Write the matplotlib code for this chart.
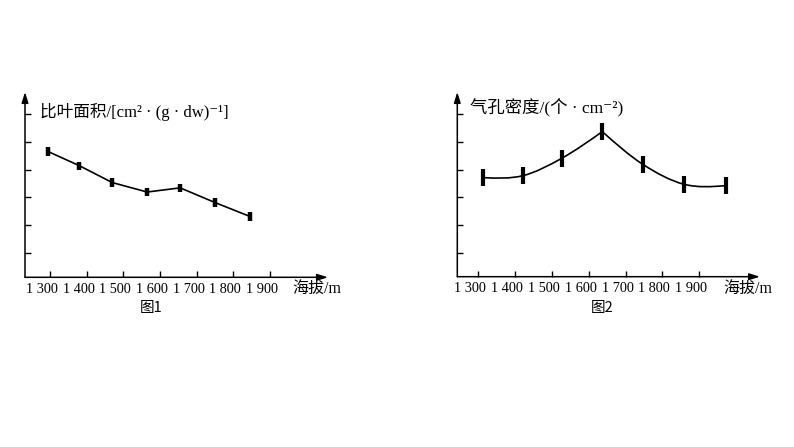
import numpy as np
import matplotlib
matplotlib.use('Agg')
import matplotlib.pyplot as plt
from matplotlib.path import Path
from matplotlib.patches import PathPatch
from matplotlib.transforms import ScaledTranslation

# figure 1: specific leaf area vs altitude
alt1 = [1295, 1380, 1470, 1565, 1655, 1750, 1845]
sla = [4.65, 4.14, 3.53, 3.19, 3.34, 2.81, 2.31]
sla_err = [0.15, 0.15, 0.15, 0.15, 0.15, 0.15, 0.15]

# figure 2: stomatal density vs altitude
alt2 = [1314, 1421, 1527, 1637, 1747, 1859, 1972]
density = [3.71, 3.78, 4.41, 5.37, 4.19, 3.47, 3.42]
density_err = [0.3, 0.3, 0.3, 0.3, 0.3, 0.3, 0.3]

xticks = [1300, 1400, 1500, 1600, 1700, 1800, 1900]
xtick_labels = ['1 300', '1 400', '1 500', '1 600', '1 700', '1 800', '1 900']
yticks = [1, 2, 3, 4, 5, 6]

title1 = '比叶面积/[cm² · (g · dw)⁻¹]'
title2 = '气孔密度/(个 · cm⁻²)'
xlabel = '海拔/m'

W, H = 794, 447
fig = plt.figure(figsize=(W / 100, H / 100), dpi=100)
txt_font = ['Liberation Serif', 'Noto Sans CJK SC', 'DejaVu Serif']


def add_axes_px(left, right, top, bottom):
    return fig.add_axes([left / W, 1 - bottom / H, (right - left) / W, (bottom - top) / H])


def setup_axes(ax, xlim, ylim):
    ax.set_xlim(*xlim)
    ax.set_ylim(*ylim)
    for s in ['top', 'right', 'left', 'bottom']:
        ax.spines[s].set_visible(False)
    ax.patch.set_alpha(0)
    arrow = dict(arrowstyle='-|>,head_length=0.7,head_width=0.22', lw=1.1,
                 color='black', shrinkA=0, shrinkB=0, mutation_scale=9)
    ax.annotate('', xy=(0, 1), xytext=(0, 0), xycoords='axes fraction', arrowprops=arrow)
    ax.annotate('', xy=(1, 0), xytext=(0, 0), xycoords='axes fraction', arrowprops=arrow)
    ax.set_xticks(xticks, xtick_labels)
    ax.set_yticks(yticks, [])
    ax.tick_params(axis='both', direction='in', length=4, width=1.0, color='black')
    ax.tick_params(axis='x', pad=4, labelsize=10.3)
    shift = ScaledTranslation(-8 / 100, 0, fig.dpi_scale_trans)
    for lab in ax.get_xticklabels():
        lab.set_fontfamily('Liberation Serif')
        lab.set_transform(lab.get_transform() + shift)


def smooth_path(xs, ys):
    # Hermite -> Bezier through the points, natural ends
    p = np.column_stack([xs, ys]).astype(float)
    n = len(p)
    m = np.zeros_like(p)
    for i in range(1, n - 1):
        m[i] = (p[i + 1] - p[i - 1]) / 2
    m[0] = 1.5 * (p[1] - p[0]) - 0.5 * m[1]
    m[-1] = 1.5 * (p[-1] - p[-2]) - 0.5 * m[-2]
    verts = [p[0]]
    codes = [Path.MOVETO]
    for i in range(n - 1):
        verts += [p[i] + m[i] / 3, p[i + 1] - m[i + 1] / 3, p[i + 1]]
        codes += [Path.CURVE4] * 3
    return Path(verts, codes)


# chart 1
ax1 = add_axes_px(25, 328, 92, 277.3)
setup_axes(ax1, (1231.8, 2058.2), (0.112, 6.80))
ax1.plot(alt1, sla, color='black', lw=1.2)
ax1.errorbar(alt1, sla, yerr=sla_err, fmt='none', ecolor='black', elinewidth=3.2, capsize=0)

# chart 2
ax2 = add_axes_px(457.3, 760, 92, 276.7)
setup_axes(ax2, (1242.9, 2065.5), (0.134, 6.80))
ax2.add_patch(PathPatch(smooth_path(alt2[:4], density[:4]), fill=False, lw=1.2, color='black'))
ax2.add_patch(PathPatch(smooth_path(alt2[3:], density[3:]), fill=False, lw=1.2, color='black'))
ax2.errorbar(alt2, density, yerr=density_err, fmt='none', ecolor='black', elinewidth=3.0, capsize=0)

# texts
fig.text(40 / W, 1 - 111.7 / H, title1, family=txt_font, fontsize=12, ha='left', va='center')
fig.text(470 / W, 1 - 108 / H, title2, family=txt_font, fontsize=12.5, ha='left', va='center')
fig.text(292 / W, 1 - 289 / H, xlabel, family=txt_font, fontsize=11.5, ha='left', va='center')
fig.text(723 / W, 1 - 289 / H, xlabel, family=txt_font, fontsize=11.5, ha='left', va='center')
fig.text(151 / W, 1 - 308 / H, '图1', family=['Noto Sans CJK SC', 'DejaVu Sans'], fontsize=10.5, ha='center', va='center')
fig.text(602 / W, 1 - 308 / H, '图2', family=['Noto Sans CJK SC', 'DejaVu Sans'], fontsize=10.5, ha='center', va='center')

fig.savefig('out.png', dpi=100)
